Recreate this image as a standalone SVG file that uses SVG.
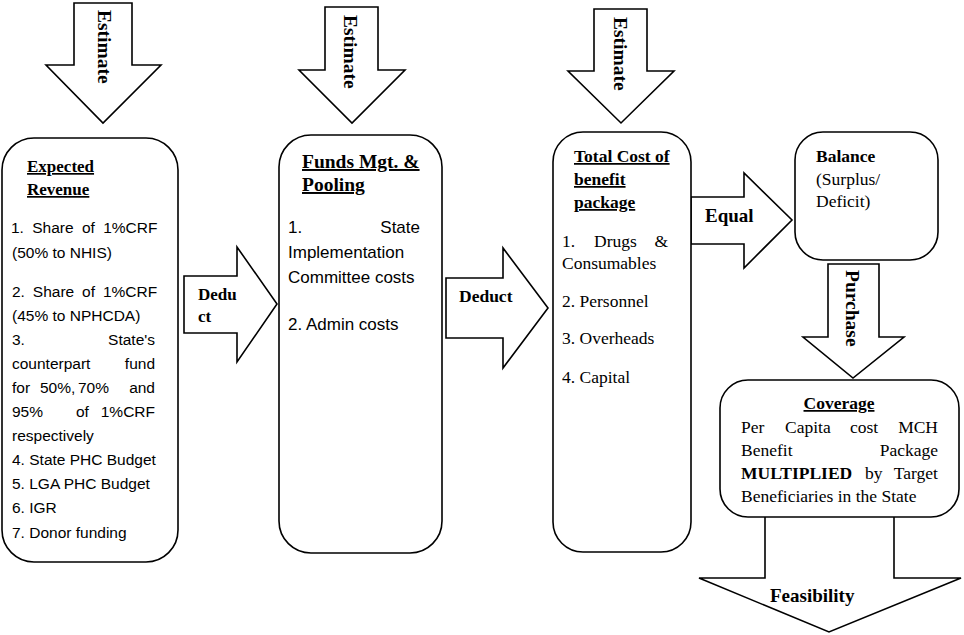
<svg xmlns="http://www.w3.org/2000/svg" width="964" height="635" viewBox="0 0 964 635">
<style>
.shape{fill:#fff;stroke:#000;stroke-width:1.6;stroke-linejoin:miter}
.box{fill:#fff;stroke:#000;stroke-width:1.6}
.lbl{font-family:"Liberation Serif","Times New Roman",serif;font-weight:bold;fill:#000}
.ttl{font-family:"Liberation Serif","Times New Roman",serif;font-weight:bold;text-decoration:underline;fill:#000}
.sans{font-family:"Liberation Sans",Arial,sans-serif;font-size:15.5px;fill:#000}
.sans2{font-family:"Liberation Sans",Arial,sans-serif;font-size:17px;fill:#000}
.ser{font-family:"Liberation Serif","Times New Roman",serif;font-size:17.5px;fill:#000}
.ser2{font-family:"Liberation Serif","Times New Roman",serif;font-size:17.5px;fill:#000}
</style>
<rect width="964" height="635" fill="#fff"/>
<g id="connectors">
  <g id="estimate1">
    <polygon class="shape" points="74,3 132,3 132,65 161,65 103,123 46,65 74,65"/>
    <text class="lbl" font-size="19.5" transform="translate(98,10) rotate(90)">Estimate</text>
  </g>
  <g id="estimate2">
    <polygon class="shape" points="325,7 378,7 378,70 405,70 352,123 299,70 325,70"/>
    <text class="lbl" font-size="19.5" transform="translate(344,15) rotate(90)">Estimate</text>
  </g>
  <g id="estimate3">
    <polygon class="shape" points="594,9 647,9 647,71 674,71 621,123 568,71 594,71"/>
    <text class="lbl" font-size="19.5" transform="translate(614,17) rotate(90)">Estimate</text>
  </g>
  <g id="deduct1">
    <polygon class="shape" points="184,276 237,276 237,247 277,304 237,362 237,333 184,333"/>
    <text class="lbl" font-size="17" x="198" y="300">Dedu</text>
    <text class="lbl" font-size="17" x="198" y="322">ct</text>
  </g>
  <g id="deduct2">
    <polygon class="shape" points="446,278 503,278 503,248 548,308 503,368 503,338 446,338"/>
    <text class="lbl" font-size="17.5" x="459" y="302">Deduct</text>
  </g>
  <g id="equal">
    <polygon class="shape" points="691,197 744,197 744,173 792,220 744,268 744,244 691,244"/>
    <text class="lbl" font-size="19" x="705" y="222">Equal</text>
  </g>
  <g id="purchase">
    <polygon class="shape" points="828,264 879,264 879,337 904,337 853,378 803,337 828,337"/>
    <text class="lbl" font-size="19.5" transform="translate(846,270) rotate(90)">Purchase</text>
  </g>
  <g id="feasibility">
    <polygon class="shape" points="765,510 894,510 894,578 961,578 829,632 699,578 765,578"/>
    <text class="lbl" font-size="19" x="770" y="602">Feasibility</text>
  </g>
</g>
<g id="expected-revenue">
  <rect class="box" x="2" y="138" width="176" height="424" rx="32" ry="32"/>
  <text class="ttl" font-size="17" x="27" y="172">Expected</text>
  <text class="ttl" font-size="17" x="27" y="195">Revenue</text>
  <text class="sans" x="11" y="233" word-spacing="4">1. Share of 1%CRF</text>
  <text class="sans" x="12" y="258">(50% to NHIS)</text>
  <text class="sans" x="12" y="297" word-spacing="3.6">2. Share of 1%CRF</text>
  <text class="sans" x="12" y="321">(45% to NPHCDA)</text>
  <text class="sans" x="12" y="345">3.</text><text class="sans" x="155" y="345" text-anchor="end">State's</text>
  <text class="sans" x="12" y="369">counterpart</text><text class="sans" x="155" y="369" text-anchor="end">fund</text>
  <text class="sans" x="12" y="393">for</text><text class="sans" x="40" y="393">50%,</text><text class="sans" x="78" y="393">70%</text><text class="sans" x="155" y="393" text-anchor="end">and</text>
  <text class="sans" x="12" y="417">95%</text><text class="sans" x="76" y="417">of</text><text class="sans" x="155" y="417" text-anchor="end">1%CRF</text>
  <text class="sans" x="12" y="441">respectively</text>
  <text class="sans" x="12" y="465">4. State PHC Budget</text>
  <text class="sans" x="12" y="489">5. LGA PHC Budget</text>
  <text class="sans" x="12" y="513">6. IGR</text>
  <text class="sans" x="12" y="538">7. Donor funding</text>
</g>
<g id="funds-pooling">
  <rect class="box" x="279" y="135" width="163" height="418" rx="32" ry="32"/>
  <text class="ttl" font-size="19.5" x="302" y="168">Funds Mgt. &amp;</text>
  <text class="ttl" font-size="19.5" x="302" y="191">Pooling</text>
  <text class="sans2" x="288" y="233">1.</text><text class="sans2" x="420" y="233" text-anchor="end">State</text>
  <text class="sans2" x="288" y="258">Implementation</text>
  <text class="sans2" x="288" y="283">Committee costs</text>
  <text class="sans2" x="288" y="330">2. Admin costs</text>
</g>
<g id="total-cost">
  <rect class="box" x="553" y="132" width="138" height="420" rx="30" ry="30"/>
  <text class="ttl" font-size="17.5" x="574" y="162">Total Cost of</text>
  <text class="ttl" font-size="17.5" x="574" y="185">benefit</text>
  <text class="ttl" font-size="17.5" x="574" y="208">package</text>
  <text class="ser" x="562" y="247">1.</text><text class="ser" x="594" y="247">Drugs</text><text class="ser" x="668" y="247" text-anchor="end">&amp;</text>
  <text class="ser" x="562" y="269">Consumables</text>
  <text class="ser" x="562" y="307">2. Personnel</text>
  <text class="ser" x="562" y="344">3. Overheads</text>
  <text class="ser" x="562" y="383">4. Capital</text>
</g>
<g id="balance">
  <rect class="box" x="795" y="132" width="143" height="128" rx="28" ry="28"/>
  <text class="lbl" font-size="17.5" x="816" y="162">Balance</text>
  <text class="ser" x="816" y="185">(Surplus/</text>
  <text class="ser" x="816" y="207">Deficit)</text>
</g>
<g id="coverage">
  <rect class="box" x="720" y="380" width="239" height="137" rx="28" ry="28"/>
  <text class="ttl" font-size="17.5" x="839" y="409" text-anchor="middle">Coverage</text>
  <text class="ser2" x="741" y="433">Per</text><text class="ser2" x="785" y="433">Capita</text><text class="ser2" x="850" y="433">cost</text><text class="ser2" x="938" y="433" text-anchor="end">MCH</text>
  <text class="ser2" x="741" y="456">Benefit</text><text class="ser2" x="938" y="456" text-anchor="end">Package</text>
  <text class="ser2" x="741" y="479" font-weight="bold">MULTIPLIED</text><text class="ser2" x="865" y="479">by</text><text class="ser2" x="938" y="479" text-anchor="end">Target</text>
  <text class="ser2" x="741" y="502">Beneficiaries in the State</text>
</g>
</svg>
